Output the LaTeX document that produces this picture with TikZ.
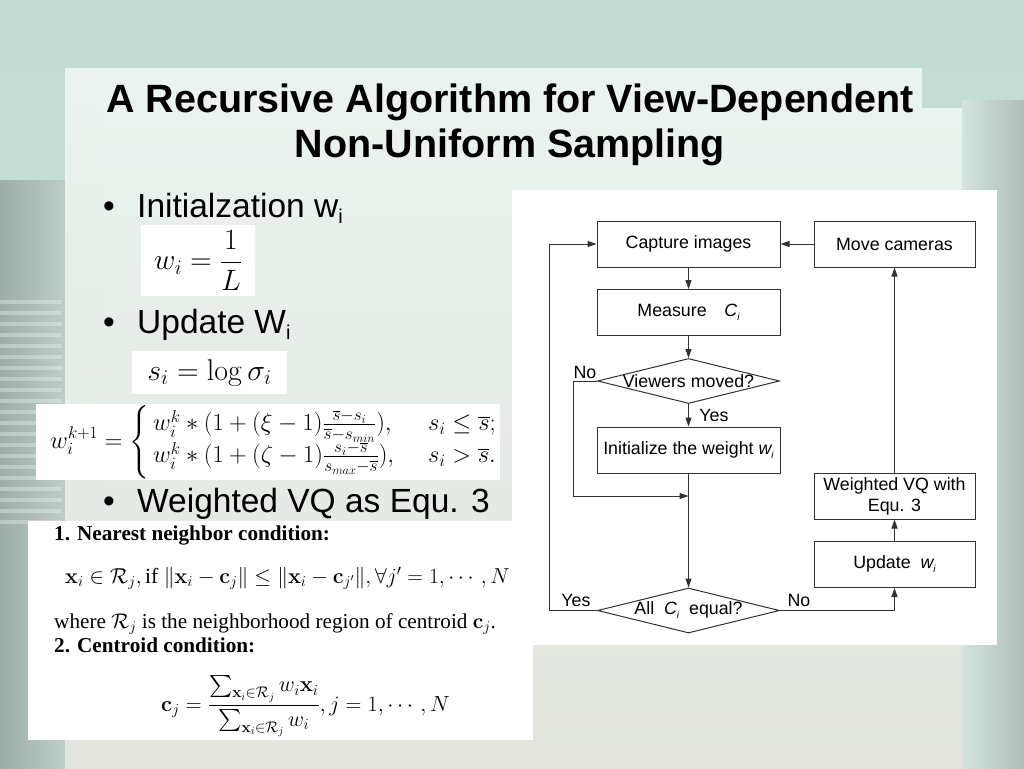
\RequirePackage{fix-cm}
\documentclass[tikz,border=0pt]{standalone}
\usepackage[no-math]{fontspec}
\usepackage{amsmath,amssymb}
\newfontfamily\arialfont{Liberation Sans}
\newfontfamily\timesfont{Liberation Serif}
\definecolor{slidetop}{RGB}{194,219,210}
\definecolor{slidebg}{RGB}{210,228,221}
\definecolor{slideside}{RGB}{158,172,167}
\definecolor{slidepanel}{RGB}{234,243,239}
\definecolor{slidefoot}{RGB}{226,228,221}
\definecolor{flowline}{RGB}{50,50,50}
\usetikzlibrary{arrows.meta, positioning, shapes.geometric}

\newcommand{\flowfont}{\arialfont\fontsize{17.8}{21}\selectfont}
\newcommand{\bulletfont}{\arialfont\fontsize{33.5}{38}\selectfont}
\newcommand{\flowsub}[2]{{\itshape #1}\raisebox{-4pt}{\fontsize{10}{10}\selectfont\itshape #2}}
\newcommand{\bulletsub}[2]{#1\raisebox{-6pt}{\fontsize{20}{20}\selectfont #2}}

\begin{document}
\begin{tikzpicture}[x=1pt, y=-1pt,
  flowbox/.style={draw=flowline, fill=white, line width=1pt, minimum width=183pt, minimum height=46pt, inner sep=1pt, font=\flowfont},
  decide/.style={diamond, draw=flowline, fill=white, line width=1pt, minimum width=182pt, minimum height=45pt, inner sep=0pt},
  flowtext/.style={inner sep=0pt, font=\flowfont},
  flowarrow/.style={draw=flowline, line width=1pt, -{Triangle[length=9pt,width=6pt]}},
  fbox/.style={fill=white, inner sep=0pt},
  bullettext/.style={anchor=base west, inner sep=0pt, font=\bulletfont},
  vqtext/.style={anchor=base west, inner sep=0pt, font=\timesfont\fontsize{21.2}{25}\selectfont},
]
  \useasboundingbox (0,0) rectangle (1024,768);

  % slide background
  \shade[top color=slidetop, bottom color=slidebg] (0,0) rectangle (1024,768);
  \shade[left color=slideside, right color=slidebg] (0,180) rectangle (110,768);
  \foreach \yy in {300,311,...,520}
    \fill[white, opacity=0.3] (0,\yy) rectangle (62,\yy+4);
  \shade[left color=slidebg, right color=slideside!80] (962,100) rectangle (1024,768);
  \shade[top color=slidepanel, bottom color=slidefoot] (65,68) rectangle (922,768);
  \shade[top color=slidepanel, bottom color=slidefoot] (102,108) rectangle (962,768);
  \fill[slidepanel] (65,68) rectangle (922,108);

  % title
  \node[anchor=base, inner sep=0pt, font=\arialfont\bfseries\fontsize{39.5}{45}\selectfont] (title1) at (510,112) {A Recursive Algorithm for View-Dependent};
  \node[anchor=base, inner sep=0pt, font=\arialfont\bfseries\fontsize{39.5}{45}\selectfont] (title2) at (510,157) {Non-Uniform Sampling};

  % bullets
  \node[bullettext] (b1) at (137,217) {\bulletsub{Initialzation w}{i}};
  \node[bullettext] (b2) at (137,333) {\bulletsub{Update W}{i}};
  \node[bullettext] (b3) at (137,512) {Weighted VQ as Equ. 3};
  \foreach \bb in {b1,b2,b3}
    \node[anchor=base east, inner sep=0pt, font=\bulletfont] at ([xshift=-22pt]\bb.base west) {\textbullet};

  % formula boxes
  \node[fbox, minimum width=114pt, minimum height=71pt] (winit) at (198,260.5) {\fontsize{29.5}{34}\selectfont$w_i = \dfrac{1}{L}$};
  \node[fbox, minimum width=155pt, minimum height=43pt] (slog) at (209.5,372.5) {\fontsize{30}{34}\selectfont$s_i = \log\sigma_i$};
  \node[fbox, minimum width=464pt, minimum height=76pt] (wupdbox) at (268,442) {};
  \node[anchor=west, inner sep=0pt] (wupd) at (50,442) {\fontsize{24.5}{28}\selectfont$w_i^{k+1} = \left\{\begin{array}{@{\,}l@{\hspace{34pt}}l@{}}
      w_i^k * (1+(\xi-1)\frac{\overline{s}-s_i}{\overline{s}-s_{min}}), & s_i \le \overline{s};\\
      w_i^k * (1+(\zeta-1)\frac{s_i-\overline{s}}{s_{max}-\overline{s}}), & s_i > \overline{s}.
    \end{array}\right.$};

  % flowchart
  \node[fbox, minimum width=485pt, minimum height=455pt] (flowpanel) at (754.5,417.5) {};
  \node[flowbox] (cap) at (688.5,244) {Capture images};
  \node[flowbox, minimum width=161pt] (move) at (894.5,244) {Move cameras};
  \node[flowbox] (meas) at (688.5,312.5) {Measure\quad\flowsub{C}{i}};
  \node[decide] (vm) at (688.5,381) {};
  \node[flowtext] (vmtxt) at (vm) {Viewers moved?};
  \node[flowbox] (init) at (688.5,450) {Initialize the weight \flowsub{w}{i}};
  \node[flowbox, minimum width=161pt, align=center] (wvq) at (894.5,496) {Weighted VQ with\\Equ. 3};
  \node[flowbox, minimum width=161pt] (upd) at (894.5,564.5) {Update\ \ \flowsub{w}{i}};
  \node[decide] (eq) at (688.5,610.5) {};
  \node[flowtext] (eqtxt) at (eq) {All\ \ \flowsub{C}{i}\ \ equal?};
  \coordinate (join) at (688.5,496);

  \draw[flowarrow] (cap) -- (meas);
  \draw[flowarrow] (meas) -- (vm);
  \draw[flowarrow] (vm) -- (init);
  \draw[flowarrow] (init) -- (eq);
  \draw[flowarrow] (vm.west) -- ++(-24,0) |- (join);
  \draw[flowarrow] (eq.west) -- ++(-48,0) |- (cap.west);
  \draw[flowarrow] (eq.east) -| (upd.south);
  \draw[flowarrow] (upd) -- (wvq);
  \draw[flowarrow] (wvq) -- (move);
  \draw[flowarrow] (move) -- (cap);

  \node[flowtext] (no1) at (585,372) {No};
  \node[flowtext] (yes1) at (714,415) {Yes};
  \node[flowtext] (yes2) at (576,600) {Yes};
  \node[flowtext] (no2) at (799,600) {No};

  % VQ conditions
  \node[fbox, minimum width=505pt, minimum height=219pt] (vqbox) at (280.5,630.5) {};
  \node[vqtext] (nn) at (54,540) {\bfseries 1. Nearest neighbor condition:};
  \node[vqtext, font=\timesfont\fontsize{21.6}{25}\selectfont] (nnf) at (65,583) {$\mathbf{x}_i \in \mathcal{R}_j, \text{if } \|\mathbf{x}_i-\mathbf{c}_j\| \le \|\mathbf{x}_i-\mathbf{c}_{j'}\|, \forall j'=1,\cdots,N$};
  \node[vqtext] (nnw) at (54,628) {where $\mathcal{R}_j$ is the neighborhood region of centroid $\mathbf{c}_j$.};
  \node[vqtext] (cc) at (54,652) {\bfseries 2. Centroid condition:};
  \node[anchor=west, inner sep=0pt, font=\timesfont\fontsize{22}{25}\selectfont] (ccf) at (161,706) {$\mathbf{c}_j = \dfrac{\sum_{\mathbf{x}_i\in\mathcal{R}_j} w_i\mathbf{x}_i}{\sum_{\mathbf{x}_i\in\mathcal{R}_j} w_i}, j=1,\cdots,N$};
\end{tikzpicture}
\end{document}
